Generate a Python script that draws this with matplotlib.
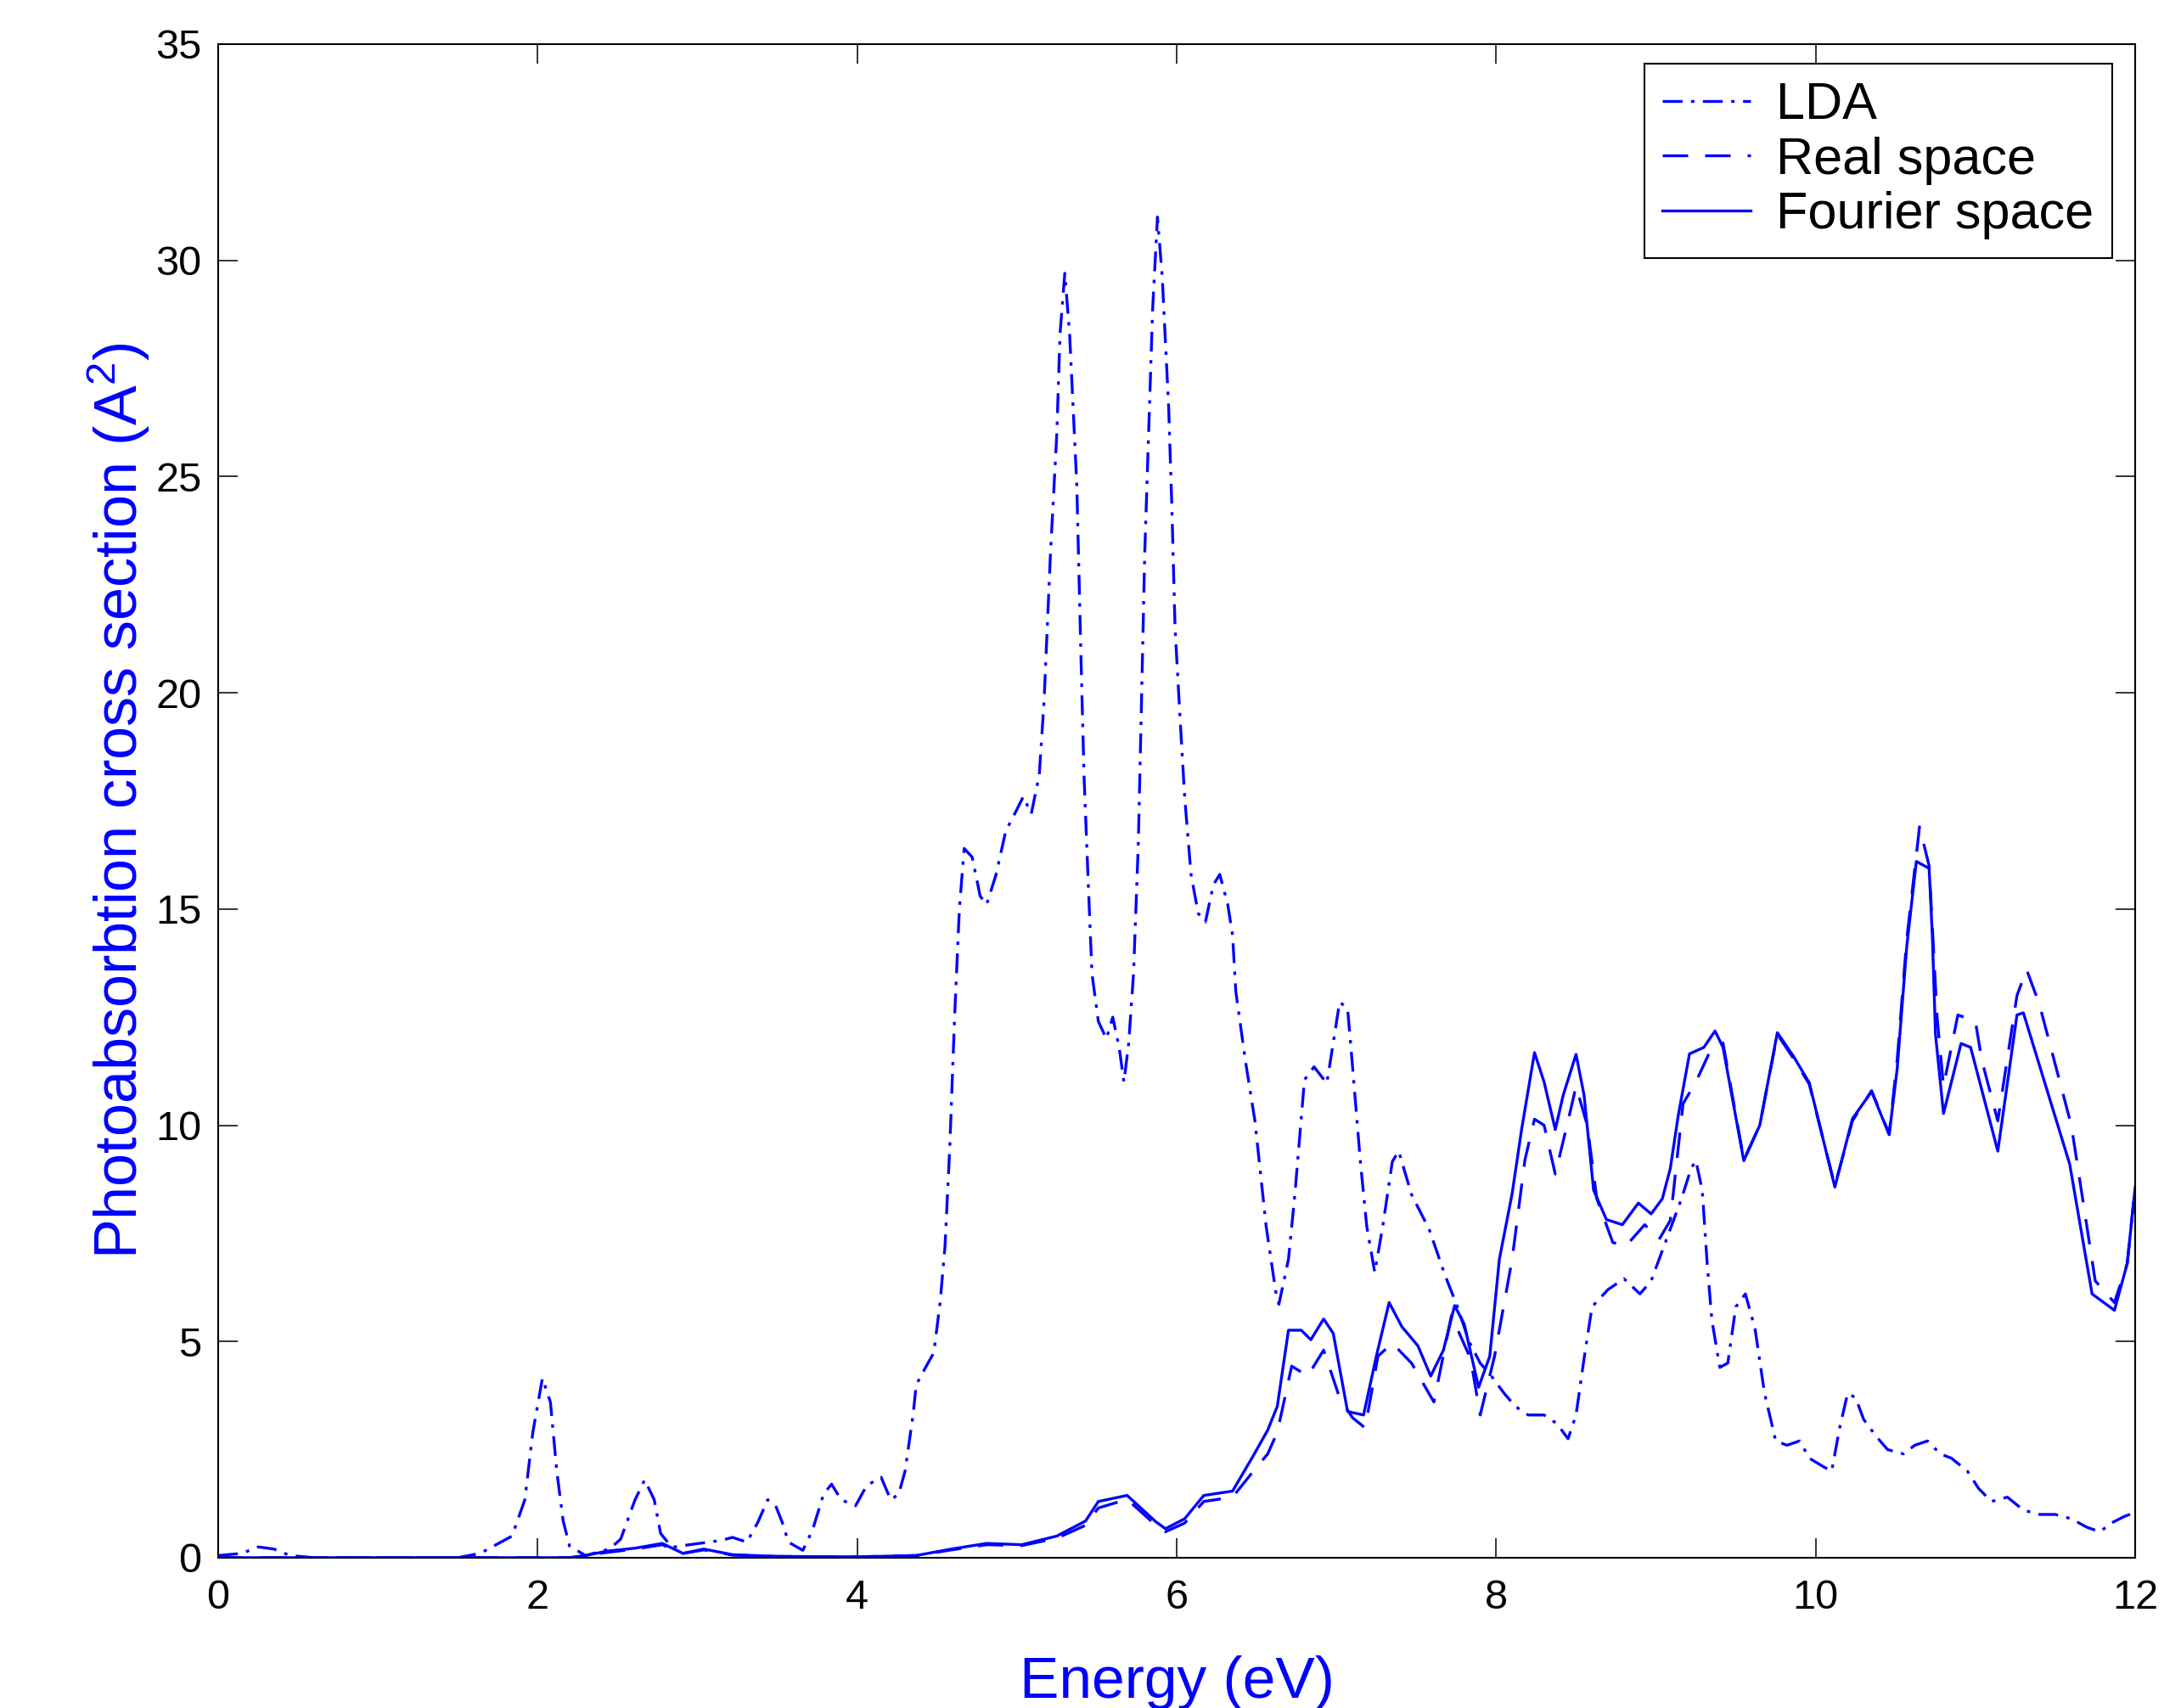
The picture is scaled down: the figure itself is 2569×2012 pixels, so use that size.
"""
Photoabsorption cross section vs. energy: LDA, real space and Fourier space
results, drawn in the old MATLAB look (blue lines, boxed axes, inward ticks).
"""

import numpy as np
import matplotlib
matplotlib.use('Agg')
import matplotlib.pyplot as plt

# LDA curve (energy in eV, cross section in A^2)
lda_e = [0.0, 0.15, 0.25, 0.35, 0.45, 0.6, 1.5, 1.64, 1.77, 1.84, 1.92, 1.97, 2.03, 2.08,
         2.12, 2.16, 2.20, 2.30, 2.45, 2.52, 2.61, 2.67, 2.73, 2.77, 2.84, 2.95, 3.05, 3.15,
         3.22, 3.31, 3.38, 3.44, 3.49, 3.53, 3.57, 3.66, 3.72, 3.79, 3.84, 3.90, 3.99, 4.06,
         4.15, 4.21, 4.26, 4.30, 4.35, 4.37, 4.43, 4.48, 4.52, 4.55, 4.58, 4.61, 4.64, 4.67,
         4.72, 4.77, 4.81, 4.87, 4.93, 5.00, 5.04, 5.09, 5.14, 5.17, 5.21, 5.25, 5.27, 5.30,
         5.33, 5.375, 5.40, 5.42, 5.45, 5.47, 5.51, 5.56, 5.60, 5.64, 5.67, 5.70, 5.73, 5.76,
         5.78, 5.80, 5.83, 5.85, 5.88, 5.91, 5.95, 5.97, 5.99, 6.02, 6.05, 6.09, 6.135, 6.18,
         6.23, 6.27, 6.32, 6.35, 6.37, 6.43, 6.49, 6.56, 6.62, 6.64, 6.70, 6.74, 6.80, 6.86,
         6.94, 6.98, 7.02, 7.07, 7.10, 7.15, 7.19, 7.24, 7.29, 7.35, 7.39, 7.47, 7.53, 7.58,
         7.68, 7.76, 7.83, 7.90, 7.97, 8.05, 8.12, 8.20, 8.30, 8.38, 8.45, 8.50, 8.55, 8.60,
         8.70, 8.80, 8.90, 8.97, 9.06, 9.16, 9.22, 9.25, 9.29, 9.32, 9.35, 9.40, 9.45, 9.50,
         9.56, 9.62, 9.68, 9.75, 9.82, 9.90, 9.96, 10.05, 10.10, 10.15, 10.20, 10.25, 10.30,
         10.38, 10.45, 10.55, 10.62, 10.70, 10.78, 10.85, 10.95, 11.02, 11.10, 11.20, 11.30,
         11.40, 11.50, 11.60, 11.70, 11.78, 11.85, 11.93, 12.0]
lda_val = [0.05, 0.1, 0.25, 0.2, 0.05, 0.0, 0.0, 0.1, 0.36, 0.5, 1.34, 2.9, 4.15, 3.6,
           2.0, 0.85, 0.27, 0.05, 0.2, 0.43, 1.34, 1.8, 1.34, 0.56, 0.24, 0.3, 0.35, 0.4,
           0.47, 0.36, 0.83, 1.34, 1.2, 0.83, 0.36, 0.17, 0.63, 1.47, 1.7, 1.34, 1.2, 1.67,
           1.86, 1.34, 1.47, 2.0, 3.3, 4.0, 4.41, 4.74, 5.92, 7.2, 9.5, 12.5, 15.0, 16.4,
           16.2, 15.3, 15.1, 15.8, 16.8, 17.3, 17.6, 17.2, 18.1, 19.8, 23.2, 26.0, 28.3, 29.7,
           28.3, 24.8, 21.0, 18.1, 15.3, 13.5, 12.4, 12.0, 12.5, 11.8, 11.0, 11.9, 13.5, 16.5,
           19.8, 23.2, 26.6, 28.9, 31.0, 29.6, 26.6, 24.3, 21.5, 19.5, 17.6, 15.8, 14.9, 14.7,
           15.56, 15.8, 15.1, 14.4, 13.1, 11.5, 10.1, 7.67, 6.16, 5.86, 6.9, 8.4, 11.05, 11.35,
           10.97, 11.9, 12.85, 12.7, 11.4, 9.16, 7.66, 6.6, 7.66, 9.16, 9.4, 8.4, 7.96, 7.6,
           6.53, 5.78, 5.0, 4.5, 4.2, 3.8, 3.5, 3.3, 3.3, 3.1, 2.75, 3.3, 4.6, 5.8,
           6.2, 6.45, 6.1, 6.4, 7.3, 8.3, 9.0, 9.18, 8.5, 6.85, 5.5, 4.4, 4.5, 5.8,
           6.1, 5.3, 3.8, 2.7, 2.6, 2.7, 2.3, 2.1, 2.0, 3.0, 3.8, 3.7, 3.2,
           2.8, 2.5, 2.4, 2.6, 2.7, 2.4, 2.3, 2.0, 1.6, 1.3, 1.4, 1.1,
           1.0, 1.0, 0.9, 0.7, 0.6, 0.8, 0.95, 1.05]

# Real space curve
real_e = [0.0, 2.2, 2.30, 2.43, 2.61, 2.78, 2.91, 3.04, 3.22, 3.49, 4.0, 4.37, 4.59, 4.81,
          5.03, 5.25, 5.43, 5.51, 5.69, 5.87, 5.93, 6.05, 6.17, 6.35, 6.48, 6.57, 6.63, 6.72,
          6.82, 6.92, 7.02, 7.10, 7.18, 7.26, 7.35, 7.47, 7.61, 7.72, 7.84, 7.90, 7.99, 8.10,
          8.18, 8.24, 8.30, 8.37, 8.45, 8.50, 8.57, 8.63, 8.73, 8.81, 8.93, 9.02, 9.09, 9.17,
          9.25, 9.35, 9.42, 9.55, 9.65, 9.76, 9.86, 9.96, 10.12, 10.23, 10.35, 10.46, 10.51,
          10.57, 10.65, 10.71, 10.73, 10.76, 10.80, 10.89, 11.0, 11.04, 11.14, 11.26, 11.32,
          11.40, 11.60, 11.75, 11.87, 11.95, 12.0]
real_val = [0.0, 0.0, 0.05, 0.12, 0.2, 0.3, 0.1, 0.18, 0.06, 0.03, 0.02, 0.05, 0.18, 0.3,
            0.28, 0.45, 0.75, 1.15, 1.35, 0.75, 0.6, 0.8, 1.3, 1.4, 2.0, 2.4, 2.9, 4.43,
            4.2, 4.8, 3.7, 3.24, 3.0, 4.66, 4.96, 4.5, 3.6, 5.6, 4.6, 3.3, 4.66, 6.9,
            9.2, 10.14, 10.0, 8.87, 10.1, 10.9, 10.0, 8.3, 7.29, 7.2, 7.7, 7.36, 7.8, 10.5,
            11.0, 11.8, 11.9, 9.2, 10.0, 12.1, 11.55, 10.95, 8.6, 10.1, 10.8, 9.8, 11.5,
            14.3, 16.9, 16.0, 14.6, 12.5, 10.9, 12.55, 12.4, 11.5, 10.1, 13.0, 13.6,
            12.8, 10.0, 6.4, 5.9, 6.8, 8.6]

# Fourier space curve
fourier_e = [0.0, 2.2, 2.30, 2.43, 2.61, 2.78, 2.91, 3.04, 3.22, 3.49, 4.0, 4.37, 4.59, 4.81,
             5.03, 5.25, 5.43, 5.51, 5.69, 5.87, 5.93, 6.05, 6.17, 6.35, 6.48, 6.57, 6.63, 6.70,
             6.78, 6.84, 6.92, 6.98, 7.07, 7.17, 7.25, 7.33, 7.41, 7.51, 7.59, 7.67, 7.74, 7.80,
             7.89, 7.96, 8.02, 8.10, 8.16, 8.24, 8.30, 8.37, 8.42, 8.50, 8.55, 8.61, 8.69, 8.79,
             8.89, 8.97, 9.04, 9.09, 9.14, 9.21, 9.30, 9.37, 9.42, 9.55, 9.65, 9.76, 9.86, 9.96,
             10.12, 10.23, 10.35, 10.46, 10.51, 10.57, 10.63, 10.71, 10.73, 10.75, 10.80, 10.91,
             10.97, 11.14, 11.26, 11.30, 11.59, 11.73, 11.87, 11.95, 12.0]
fourier_val = [0.0, 0.0, 0.05, 0.15, 0.22, 0.33, 0.1, 0.2, 0.07, 0.03, 0.02, 0.05, 0.2, 0.33,
               0.3, 0.5, 0.85, 1.3, 1.44, 0.83, 0.67, 0.9, 1.44, 1.54, 2.36, 2.95, 3.5, 5.26,
               5.26, 5.04, 5.52, 5.19, 3.38, 3.3, 4.66, 5.9, 5.34, 4.9, 4.2, 4.8, 5.83, 5.4,
               3.94, 4.66, 6.9, 8.42, 9.92, 11.68, 11.0, 9.9, 10.7, 11.64, 10.7, 8.5, 7.82, 7.7,
               8.2, 7.95, 8.3, 9.0, 10.23, 11.65, 11.8, 12.18, 11.8, 9.18, 10.0, 12.14, 11.6, 10.98,
               8.57, 10.15, 10.78, 9.78, 11.3, 14.13, 16.1, 15.94, 14.4, 12.1, 10.27, 11.89,
               11.8, 9.4, 12.55, 12.6, 9.1, 6.1, 5.72, 6.8, 8.57]

x_ticks = [0, 2, 4, 6, 8, 10, 12]
y_ticks = [0, 5, 10, 15, 20, 25, 30, 35]

BLUE = (0.0, 0.0, 1.0)
TICK_FONT = ['Liberation Sans Narrow', 'Liberation Sans', 'DejaVu Sans']
TEXT_FONT = ['Liberation Sans', 'DejaVu Sans']


def plot_cross_section():
    plt.rcParams['mathtext.default'] = 'regular'
    fig = plt.figure(figsize=(25.69, 20.12), dpi=100)
    ax = fig.add_axes([0.1000, 0.0880, 0.8790, 0.8862])

    lw = 2.4
    ax.plot(lda_e, lda_val, color=BLUE, lw=lw, ls=(0, (7, 3, 1.2, 3)), label='LDA')
    ax.plot(real_e, real_val, color=BLUE, lw=lw, ls=(0, (9, 6)), label='Real space')
    ax.plot(fourier_e, fourier_val, color=BLUE, lw=lw, ls='-', label='Fourier space')

    ax.set_xlim(0, 12)
    ax.set_ylim(0, 35)
    ax.set_xticks(x_ticks)
    ax.set_yticks(y_ticks)
    ax.tick_params(direction='in', length=16.5, width=1.1, top=True, right=True,
                   labelsize=35, colors='black')
    ax.tick_params(axis='x', pad=18)
    ax.tick_params(axis='y', pad=14)
    for lab in ax.get_xticklabels() + ax.get_yticklabels():
        lab.set_family(TICK_FONT)
    for sp in ax.spines.values():
        sp.set_linewidth(1.5)

    ax.set_xlabel('Energy (eV)', color=BLUE, fontsize=50, family=TEXT_FONT)
    ax.xaxis.set_label_coords(0.5, -0.0645)
    ax.set_ylabel('Photoabsorbtion cross section (A$^{2}$)', color=BLUE, fontsize=50.5,
                  family=TEXT_FONT)
    ax.yaxis.set_label_coords(-0.0345, 0.5)

    leg = ax.legend(loc='upper right', bbox_to_anchor=(0.988, 0.987), fancybox=False,
                    framealpha=1, edgecolor='black', prop={'family': TEXT_FONT, 'size': 44},
                    handlelength=1.7, handletextpad=0.5, borderpad=0.35, labelspacing=0.12,
                    borderaxespad=0)
    leg.get_frame().set_linewidth(1.5)

    fig.savefig('out.png', dpi=100)
    plt.close(fig)


def main():
    plot_cross_section()


if __name__ == '__main__':
    main()
